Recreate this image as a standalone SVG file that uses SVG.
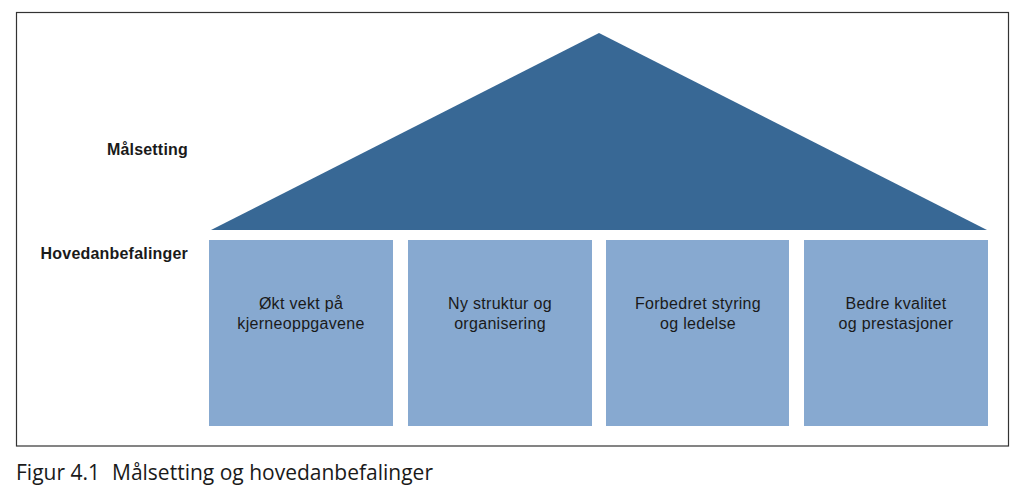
<svg xmlns="http://www.w3.org/2000/svg" width="1024" height="492" viewBox="0 0 1024 492">
<style>
.lbl{font-family:"Liberation Sans",Arial,sans-serif;font-size:16px;font-weight:bold;fill:#1a1a1a;text-anchor:end;letter-spacing:0.2px}
.box{fill:#87a9d0}
.bt{font-family:"Liberation Sans",Arial,sans-serif;font-size:16px;fill:#1a1a1a;text-anchor:middle;letter-spacing:0.3px}
.cap{font-family:"Open Sans","Noto Sans",sans-serif;font-size:21px;fill:#1a1a1a}
</style>
<rect width="1024" height="492" fill="#ffffff"/>
<rect x="16.5" y="12.5" width="992" height="433.5" fill="none" stroke="#333333" stroke-width="1.2"/>
<g id="roof">
<polygon points="211,230 599,33 987,230" fill="#386895"/>
</g>
<g id="labels">
<text class="lbl" x="188" y="155">Målsetting</text>
<text class="lbl" x="188" y="259">Hovedanbefalinger</text>
</g>
<g id="node1">
<rect class="box" x="209" y="240" width="184" height="186"/>
<text class="bt" x="301" y="309">Økt vekt på</text>
<text class="bt" x="301" y="329">kjerneoppgavene</text>
</g>
<g id="node2">
<rect class="box" x="408" y="240" width="184" height="186"/>
<text class="bt" x="500" y="309">Ny struktur og</text>
<text class="bt" x="500" y="329">organisering</text>
</g>
<g id="node3">
<rect class="box" x="606" y="240" width="183" height="186"/>
<text class="bt" x="698" y="309">Forbedret styring</text>
<text class="bt" x="698" y="329">og ledelse</text>
</g>
<g id="node4">
<rect class="box" x="804" y="240" width="184" height="186"/>
<text class="bt" x="896" y="309">Bedre kvalitet</text>
<text class="bt" x="896" y="329">og prestasjoner</text>
</g>
<g id="connectors"></g>
<text class="cap" x="16" y="480">Figur 4.1<tspan x="112">Målsetting og hovedanbefalinger</tspan></text>
</svg>
